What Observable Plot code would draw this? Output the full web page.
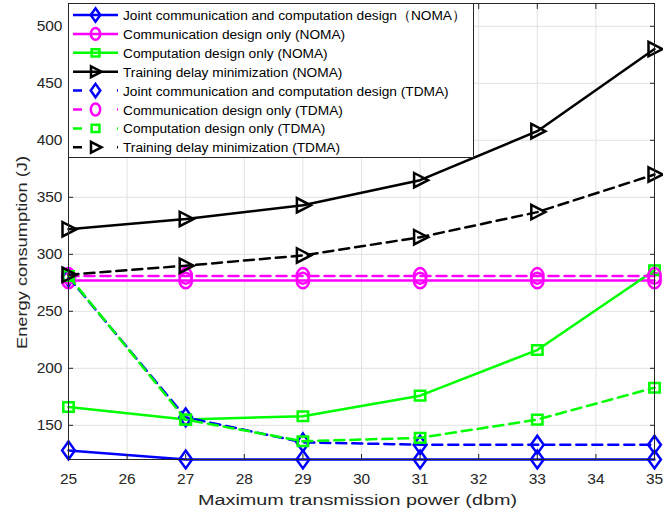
<!DOCTYPE html>
<html>
<head>
<meta charset="utf-8">
<script src="https://cdn.jsdelivr.net/npm/d3@7"></script>
<script src="https://cdn.jsdelivr.net/npm/@observablehq/plot@0.6"></script>
<style>
  body { margin: 0; background: #fff; }
  #wrap { position: relative; width: 663px; height: 519px; font-family: "Liberation Sans", Arial, sans-serif; }
  #legend { position: absolute; left: 0; top: 0; pointer-events: none; }
</style>
</head>
<body>
<div id="wrap"></div>
<script>
// ---- data ----
const power = [25, 27, 29, 31, 33, 35];
const xTicks = [25, 26, 27, 28, 29, 30, 31, 32, 33, 34, 35];
const yTicks = [150, 200, 250, 300, 350, 400, 450, 500];
const xLabel = "Maximum transmission power (dbm)";
const yLabel = "Energy consumption (J)";

const jointNOMA = [128, 120, 120, 120, 120, 120];
const commNOMA  = [277, 277, 277, 277, 277, 277];
const compNOMA  = [166, 155, 158, 176, 216, 286];
const delayNOMA = [322, 331, 343, 365, 408, 480];
const jointTDMA = [280, 157, 135, 133, 133, 133];
const commTDMA  = [281, 281, 281, 281, 281, 281];
const compTDMA  = [281, 155, 136, 139, 155, 183];
const delayTDMA = [282, 290, 299, 315, 337, 370];

const seriesNames = [
  "Joint communication and computation design（NOMA）",
  "Communication design only (NOMA)",
  "Computation design only (NOMA)",
  "Training delay minimization (NOMA)",
  "Joint communication and computation design (TDMA)",
  "Communication design only (TDMA)",
  "Computation design only (TDMA)",
  "Training delay minimization (TDMA)"
];
const seriesValues = [jointNOMA, commNOMA, compNOMA, delayNOMA, jointTDMA, commTDMA, compTDMA, delayTDMA];
const seriesColors = ["#0000ff", "#ff00ff", "#00ff00", "#000000", "#0000ff", "#ff00ff", "#00ff00", "#000000"];
const seriesDashed = [false, false, false, false, true, true, true, true];
const seriesMarker = ["diamond", "circle", "square", "triangle", "diamond", "circle", "square", "triangle"];

// ---- custom marker symbols (MATLAB-like) ----
const K = 0.5523;
const symbols = {
  diamond: { draw(c, size) { const s = Math.sqrt(size / Math.PI);
    c.moveTo(0, -1.12 * s); c.lineTo(0.8 * s, 0); c.lineTo(0, 1.12 * s); c.lineTo(-0.8 * s, 0); c.closePath(); } },
  circle: { draw(c, size) { const s = Math.sqrt(size / Math.PI); const rx = 0.78 * s, ry = 0.98 * s;
    c.moveTo(rx, 0);
    c.bezierCurveTo(rx, K * ry, K * rx, ry, 0, ry);
    c.bezierCurveTo(-K * rx, ry, -rx, K * ry, -rx, 0);
    c.bezierCurveTo(-rx, -K * ry, -K * rx, -ry, 0, -ry);
    c.bezierCurveTo(K * rx, -ry, rx, -K * ry, rx, 0);
    c.closePath(); } },
  square: { draw(c, size) { const s = Math.sqrt(size / Math.PI);
    c.rect(-0.65 * s, -0.6 * s, 1.3 * s, 1.2 * s); } },
  triangle: { draw(c, size) { const s = Math.sqrt(size / Math.PI);
    c.moveTo(-0.75 * s, -0.9 * s); c.lineTo(1.0 * s, 0); c.lineTo(-0.75 * s, 0.9 * s); c.closePath(); } }
};

// ---- table ----
const rows = [];
seriesNames.forEach((name, i) => {
  power.forEach((p, j) => rows.push({ series: name, idx: i, x: p, y: seriesValues[i][j] }));
});

const marks = [
  Plot.gridX(xTicks, { stroke: "#e2e2e2", strokeOpacity: 1 }),
  Plot.gridY(yTicks, { stroke: "#e2e2e2", strokeOpacity: 1 })
];
seriesNames.forEach((name, i) => {
  const data = rows.filter(d => d.idx === i);
  marks.push(Plot.line(data, { x: "x", y: "y", stroke: seriesColors[i], strokeWidth: 2.5,
    strokeDasharray: seriesDashed[i] ? "10,6" : null }));
  marks.push(Plot.dot(data, { x: "x", y: "y", r: 8, stroke: seriesColors[i], strokeWidth: 2.5,
    fill: "none", symbol: symbols[seriesMarker[i]] }));
});
marks.push(
  Plot.frame({ stroke: "#262626", strokeWidth: 1 }),
  Plot.axisX(xTicks, { anchor: "bottom", tickSize: 0, tickPadding: 13, fontSize: 15.5, fill: "#262626", label: null }),
  Plot.axisY(yTicks, { anchor: "left", tickSize: 0, tickPadding: 6, fontSize: 15.5, fill: "#262626", label: null }),
  Plot.axisX(xTicks, { anchor: "bottom", tickSize: 5, text: null, dy: -5, stroke: "#262626", label: null }),
  Plot.axisX(xTicks, { anchor: "top", tickSize: 5, text: null, dy: 5, stroke: "#262626", label: null }),
  Plot.axisY(yTicks, { anchor: "left", tickSize: 5, text: null, dx: 5, stroke: "#262626", label: null }),
  Plot.axisY(yTicks, { anchor: "right", tickSize: 5, text: null, dx: -5, stroke: "#262626", label: null }),
  Plot.text([xLabel], { text: d => d, frameAnchor: "bottom", textAnchor: "middle", dx: -4, dy: 45, fontSize: 15.5, fill: "#262626" }),
  Plot.text([yLabel], { text: d => d, frameAnchor: "left", textAnchor: "middle", dx: -46, dy: 21, rotate: -90, fontSize: 15.5, fill: "#262626" })
);

const chart = Plot.plot({
  width: 663, height: 519,
  marginLeft: 68, marginRight: 9, marginTop: 3, marginBottom: 60,
  style: { fontFamily: "'Liberation Sans', Arial, sans-serif", fontSize: "15px", background: "#fff" },
  x: { domain: [25, 35] },
  y: { domain: [120, 520] },
  marks
});
const wrap = document.getElementById("wrap");
wrap.appendChild(chart);

// stretch axis titles horizontally like the reference's wide lettering
const allText = d3.select(chart).selectAll("text").nodes();
const findText = s => allText.find(t => t.textContent === s);
d3.select(findText(xLabel)).attr("textLength", 319).attr("lengthAdjust", "spacingAndGlyphs");
d3.select(findText(yLabel)).attr("textLength", 193).attr("lengthAdjust", "spacingAndGlyphs");

// ---- legend overlay ----
const lg = d3.select(wrap).append("svg").attr("id", "legend").attr("width", 663).attr("height", 519);
lg.append("rect").attr("x", 68.5).attr("y", 3.5).attr("width", 405).attr("height", 154)
  .attr("fill", "#fff").attr("stroke", "#262626");
seriesNames.forEach((name, i) => {
  const cy = 15 + i * 18.9;
  const g = lg.append("g");
  g.append("line").attr("x1", 73).attr("x2", 118).attr("y1", cy).attr("y2", cy)
    .attr("stroke", seriesColors[i]).attr("stroke-width", 2.5)
    .attr("stroke-dasharray", seriesDashed[i] ? "9,35,1" : null);
  g.append("path").attr("d", d3.symbol(symbols[seriesMarker[i]], 36 * Math.PI)())
    .attr("transform", `translate(95.5,${cy})`).attr("fill", "none")
    .attr("stroke", seriesColors[i]).attr("stroke-width", 2.5);
  g.append("text").attr("x", 123).attr("y", cy + 5).attr("font-size", 13.7)
    .attr("font-family", "'Liberation Sans', Arial, sans-serif").attr("fill", "#000").text(name);
});
</script>
</body>
</html>
